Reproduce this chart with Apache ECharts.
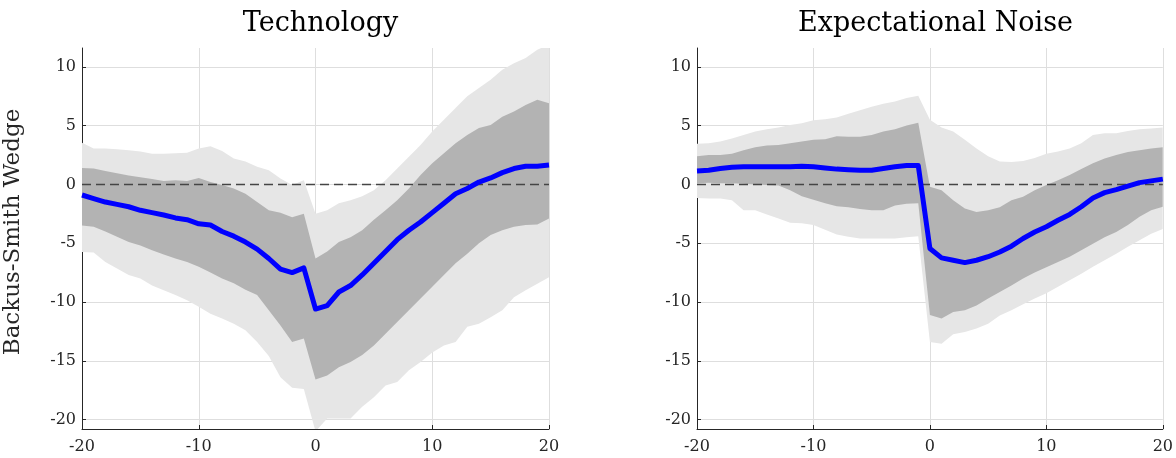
<!DOCTYPE html>
<html>
<head>
<meta charset="utf-8">
<script src="https://cdn.jsdelivr.net/npm/echarts@6/dist/echarts.min.js"></script>
<style>
html,body{margin:0;padding:0;background:#fff;}
#chart{width:1176px;height:458px;}
</style>
</head>
<body>
<div id="chart"></div>
<script>
// ---- Data ----
const horizons = [];
for (let h = -20; h <= 20; h++) horizons.push(h);

const panelTitles = ['Technology', 'Expectational Noise'];
const yAxisName = 'Backus-Smith Wedge';
const yTickValues = [-20, -15, -10, -5, 0, 5, 10];
const xTickValues = [-20, -10, 0, 10, 20];
const zeroLevel = 0;

// Technology
const techMedian = [-0.9,-1.2,-1.5,-1.7,-1.9,-2.2,-2.4,-2.6,-2.85,-3.0,
  -3.35,-3.45,-4.0,-4.4,-4.9,-5.5,-6.3,-7.2,-7.5,-7.1,
  -10.6,-10.3,-9.15,-8.6,-7.7,-6.7,-5.7,-4.7,-3.9,-3.2,-2.4,-1.6,-0.8,-0.35,0.2,0.55,1.0,1.35,1.55,1.55,1.65];
const techInnerHi = [1.4,1.35,1.15,0.95,0.75,0.6,0.45,0.3,0.35,0.3,
  0.55,0.2,-0.05,-0.35,-0.8,-1.5,-2.2,-2.4,-2.8,-2.5,
  -6.3,-5.7,-4.9,-4.5,-3.9,-3.0,-2.2,-1.35,-0.35,0.8,1.8,2.65,3.5,4.2,4.8,5.05,5.75,6.2,6.75,7.2,6.9];
const techInnerLo = [-3.5,-3.6,-4.0,-4.45,-4.9,-5.2,-5.6,-5.95,-6.3,-6.6,
  -7.0,-7.5,-8.0,-8.4,-8.95,-9.4,-10.7,-12.0,-13.4,-13.1,
  -16.6,-16.25,-15.55,-15.1,-14.5,-13.7,-12.7,-11.7,-10.7,-9.7,-8.7,-7.7,-6.7,-5.9,-5.0,-4.3,-3.9,-3.6,-3.45,-3.4,-2.9];
const techOuterHi = [3.55,3.05,3.05,3.0,2.9,2.8,2.6,2.6,2.65,2.7,
  3.05,3.25,2.85,2.2,1.95,1.5,1.2,0.5,-0.05,0.35,
  -2.5,-2.2,-1.6,-1.35,-1.0,-0.5,0.35,1.35,2.35,3.35,4.5,5.5,6.5,7.5,8.2,8.9,9.75,10.3,10.75,11.45,11.9];
const techOuterLo = [-5.75,-5.8,-6.6,-7.15,-7.7,-8.0,-8.6,-9.0,-9.4,-9.85,
  -10.4,-11.0,-11.4,-11.85,-12.4,-13.4,-14.6,-16.4,-17.3,-17.4,
  -21.0,-19.9,-19.9,-19.9,-18.9,-18.1,-17.1,-16.8,-15.8,-15.1,-14.3,-13.7,-13.4,-12.1,-11.85,-11.3,-10.7,-9.6,-9.0,-8.45,-7.9];

// Expectational Noise
const noiseMedian = [1.15,1.2,1.35,1.45,1.5,1.5,1.5,1.5,1.5,1.55,
  1.5,1.4,1.3,1.25,1.2,1.2,1.35,1.5,1.6,1.6,
  -5.45,-6.25,-6.45,-6.65,-6.45,-6.15,-5.75,-5.25,-4.6,-4.05,-3.6,-3.05,-2.55,-1.9,-1.15,-0.7,-0.45,-0.15,0.15,0.3,0.45];
const noiseInnerHi = [2.4,2.5,2.5,2.6,2.9,3.15,3.3,3.35,3.5,3.65,
  3.8,3.85,4.1,4.05,4.05,4.2,4.5,4.7,5.0,5.25,
  -0.2,-0.5,-1.35,-2.05,-2.35,-2.2,-1.95,-1.35,-1.05,-0.5,-0.05,0.35,0.8,1.3,1.8,2.2,2.5,2.75,2.9,3.05,3.15];
const noiseInnerLo = [0.1,0.15,0.1,0.1,0.05,0.0,-0.05,-0.1,-0.5,-1.0,
  -1.3,-1.6,-1.85,-1.95,-2.1,-2.2,-2.2,-1.8,-1.65,-1.6,
  -11.1,-11.4,-10.85,-10.7,-10.3,-9.7,-9.15,-8.6,-8.0,-7.5,-7.05,-6.6,-6.15,-5.6,-5.05,-4.5,-4.05,-3.45,-2.75,-2.2,-1.9];
const noiseOuterHi = [3.45,3.5,3.65,3.9,4.2,4.5,4.7,4.85,5.05,5.2,
  5.45,5.55,5.7,6.0,6.3,6.6,6.85,7.05,7.35,7.55,
  5.5,4.85,4.5,3.8,3.05,2.4,1.95,1.9,2.0,2.25,2.6,2.8,3.05,3.5,4.2,4.35,4.35,4.55,4.7,4.75,4.85];
const noiseOuterLo = [-1.15,-1.2,-1.2,-1.35,-2.2,-2.2,-2.55,-2.9,-3.25,-3.3,
  -3.45,-3.85,-4.25,-4.45,-4.6,-4.6,-4.6,-4.6,-4.5,-4.4,
  -13.4,-13.55,-12.75,-12.55,-12.25,-11.85,-11.15,-10.7,-10.2,-9.7,-9.25,-8.7,-8.15,-7.6,-7.0,-6.45,-5.9,-5.3,-4.75,-4.2,-3.8];

// ---- Chart ----
const FONT = 'DejaVu Serif';
const AX = '#262626';
const chart = echarts.init(document.getElementById('chart'), null, {renderer: 'canvas'});

const grids = [
  {left: 82, top: 48, width: 467, height: 381},
  {left: 697, top: 48, width: 467, height: 381}
];

function pairs(vals) { return horizons.map((h, i) => [h, vals[i]]); }

// A band is one polygon: upper edge left->right, then lower edge right->left,
// every vertex placed through the axes' scales (api.coord).
function bandSeries(idx, lo, hi, color) {
  return {
    type: 'custom', xAxisIndex: idx, yAxisIndex: idx, clip: true, silent: true, z: 1,
    data: [[horizons[0], lo[0]]],
    renderItem: function (params, api) {
      const pts = [];
      for (let i = 0; i < horizons.length; i++) pts.push(api.coord([horizons[i], hi[i]]));
      for (let i = horizons.length - 1; i >= 0; i--) pts.push(api.coord([horizons[i], lo[i]]));
      const cs = params.coordSys;
      return {
        type: 'polygon',
        shape: {points: pts},
        style: {fill: color, stroke: null},
        clipPath: {type: 'rect', shape: {x: cs.x, y: cs.y, width: cs.width, height: cs.height}}
      };
    }
  };
}

const panels = [
  {mid: techMedian, iHi: techInnerHi, iLo: techInnerLo, oHi: techOuterHi, oLo: techOuterLo},
  {mid: noiseMedian, iHi: noiseInnerHi, iLo: noiseInnerLo, oHi: noiseOuterHi, oLo: noiseOuterLo}
];

let series = [];
panels.forEach((p, i) => {
  series.push(bandSeries(i, p.oLo, p.oHi, '#e6e6e6'));
  series.push(bandSeries(i, p.iLo, p.iHi, '#b3b3b3'));
  series.push({type: 'line', xAxisIndex: i, yAxisIndex: i, data: [[-20, zeroLevel], [20, zeroLevel]],
    symbol: 'none', lineStyle: {color: '#454545', width: 1.5, type: [9, 5]}, silent: true, z: 3});
  series.push({type: 'line', xAxisIndex: i, yAxisIndex: i, data: pairs(p.mid),
    symbol: 'none', lineStyle: {color: '#0000ff', width: 5, join: 'round'}, silent: true, z: 4});
});

const xAxes = grids.map((g, i) => ({
  gridIndex: i, type: 'value', min: -20, max: 20, interval: 10,
  axisLine: {show: true, onZero: false, lineStyle: {color: AX, width: 1}},
  axisTick: {show: true, inside: true, length: 4, lineStyle: {color: AX}},
  axisLabel: {color: AX, fontFamily: FONT, fontSize: 16, margin: 10},
  splitLine: {show: true, lineStyle: {color: '#dedede', width: 1}}
}));

const yAxes = grids.map((g, i) => ({
  gridIndex: i, type: 'value', min: -20.8, max: 11.6,
  name: i === 0 ? yAxisName : '',
  nameLocation: 'middle', nameGap: 57,
  nameTextStyle: {fontFamily: FONT, fontSize: 23, color: AX, padding: [0, 0, 0, 13]},
  axisLine: {show: true, onZero: false, lineStyle: {color: AX, width: 1}},
  axisTick: {show: true, inside: true, length: 4, lineStyle: {color: AX}, customValues: yTickValues},
  axisLabel: {color: AX, fontFamily: FONT, fontSize: 16, margin: 6, customValues: yTickValues},
  splitLine: {show: true, lineStyle: {color: '#dedede', width: 1}}
}));

const titles = panelTitles.map((t, i) => ({
  text: t, left: grids[i].left + grids[i].width / 2, top: 5, textAlign: 'center',
  textStyle: {fontFamily: FONT, fontSize: 27, fontWeight: 'normal', color: '#000'}
}));

chart.setOption({
  animation: false,
  backgroundColor: '#fff',
  title: titles,
  grid: grids,
  xAxis: xAxes,
  yAxis: yAxes,
  series: series
});
</script>
</body>
</html>
